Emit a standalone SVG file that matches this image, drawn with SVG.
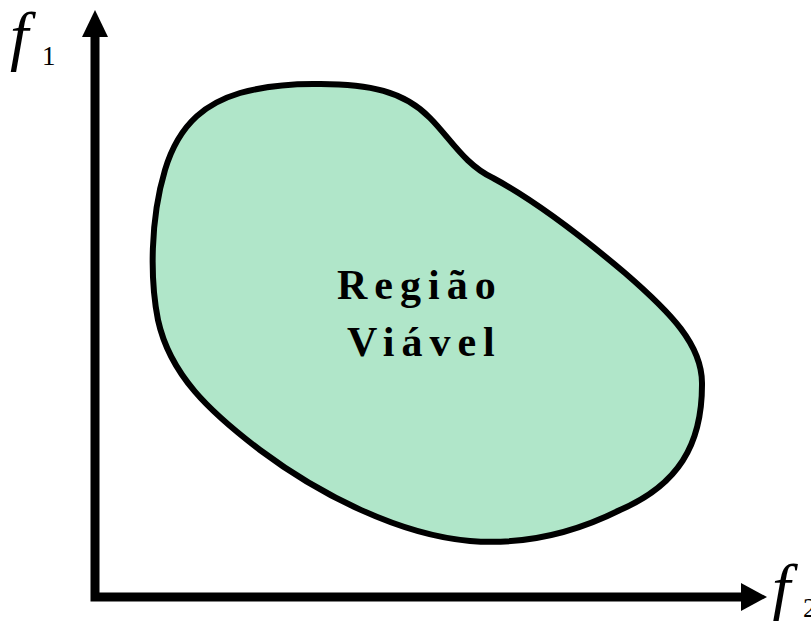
<svg xmlns="http://www.w3.org/2000/svg" width="811" height="621" viewBox="0 0 811 621">
<style>
.ax{stroke:#000;stroke-width:9;fill:none}
.lbl{font-family:"Liberation Serif",serif;font-style:italic;font-size:66px;fill:#000}
.sub{font-family:"Liberation Serif",serif;font-size:27px;fill:#000}
.t{font-family:"Liberation Serif",serif;font-weight:bold;font-size:42px;letter-spacing:7px;fill:#000}
</style>
<rect width="811" height="621" fill="#fff"/>
<g id="region">
<path d="M313,84 C370,83 405,92 430,118 C450,138 465,165 493,178 C530,198 580,235 625,273 C670,312 703,345 702,385 C702,445 678,485 620,510 C570,535 520,545 470,541 C400,535 320,495 260,450 C210,412 170,375 158,320 C150,280 150,220 165,170 C180,120 210,102 240,93 C265,86 290,84 313,84 Z" fill="#B0E6C9" stroke="#000" stroke-width="6"/>
<text class="t" x="337" y="299">Região</text>
<text class="t" x="347" y="356">Viável</text>
</g>
<g id="connectors">
<path class="ax" d="M95,36 V597 H743"/>
<polygon points="95,10 82,37 108,37" fill="#000"/>
<polygon points="767,597 741,583 741,611" fill="#000"/>
</g>
<g id="f1">
<text class="lbl" x="10" y="58">f</text>
<text class="sub" x="42" y="65">1</text>
</g>
<g id="f2">
<text class="lbl" x="772" y="610">f</text>
<text class="sub" x="803" y="617">2</text>
</g>
</svg>
